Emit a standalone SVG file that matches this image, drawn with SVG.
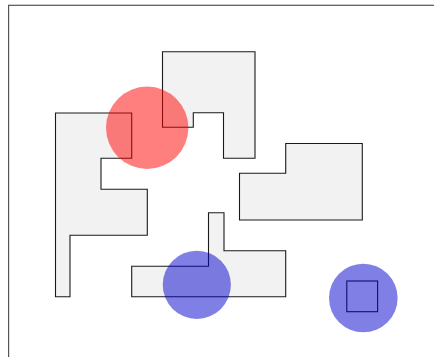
<svg xmlns="http://www.w3.org/2000/svg" width="434" height="357" viewBox="0 0 434 357">
<style>
.frame{fill:#fff;stroke:#555;stroke-width:1.2}
.shape{fill:#f2f2f2;stroke:#1a1a1a;stroke-width:1.1}
.red{fill:#ff0000;fill-opacity:0.5}
.blue{fill:#0000cd;fill-opacity:0.5}
</style>
<rect class="frame" x="8.6" y="5.3" width="440" height="360"/>
<g id="shapeA"><polygon class="shape" points="55.5,113 131.7,113 131.7,158.3 101,158.3 101,189.3 147.3,189.3 147.3,235.3 70,235.3 70,296.7 55.5,296.7"/></g>
<g id="shapeB"><polygon class="shape" points="162.5,51.7 255,51.7 255,158.3 223.5,158.3 223.5,112.7 193.3,112.7 193.3,127.3 162.5,127.3"/></g>
<g id="shapeC"><polygon class="shape" points="239.5,173.3 285.7,173.3 285.7,143.5 362.3,143.5 362.3,220 239.5,220"/></g>
<g id="shapeD"><polygon class="shape" points="131.7,266.3 208.5,266.3 208.5,212.7 224,212.7 224,250.7 285.7,250.7 285.7,296.7 131.7,296.7"/></g>
<g id="square"><rect class="shape" x="346.8" y="281" width="30.8" height="30.7" fill="none" style="fill:none"/></g>
<g id="circleRed"><circle class="red" cx="147.2" cy="127.8" r="41.2"/></g>
<g id="circleBlue1"><circle class="blue" cx="196.8" cy="284.8" r="34.1"/></g>
<g id="circleBlue2"><circle class="blue" cx="363.3" cy="298" r="34.3"/></g>
<g id="connectors"></g>
</svg>
